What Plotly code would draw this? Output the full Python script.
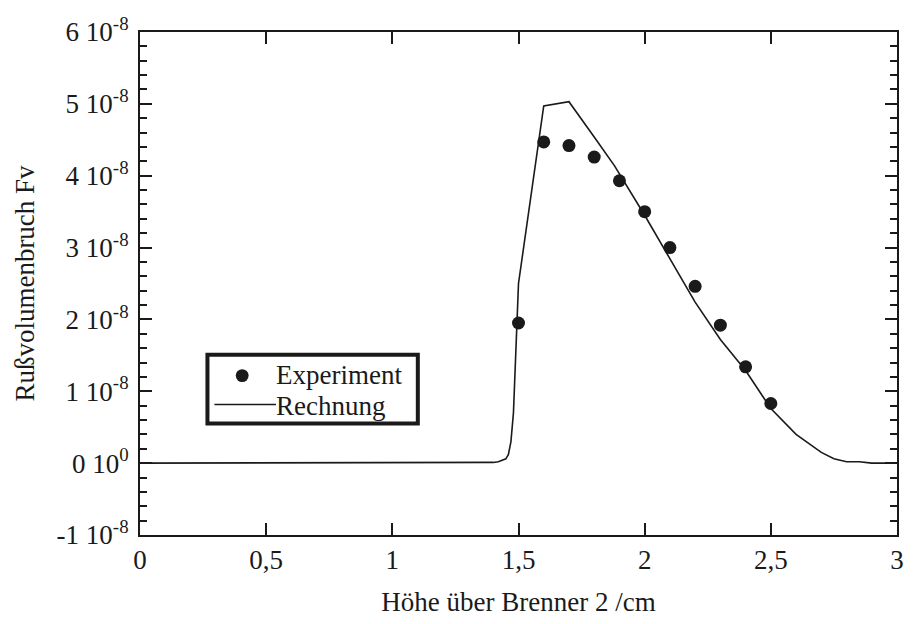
import plotly.graph_objects as go

# Experiment (dots)
x_exp = [1.5, 1.6, 1.7, 1.8, 1.9, 2.0, 2.1, 2.2, 2.3, 2.4, 2.5]
y_exp_e8 = [1.95, 4.47, 4.42, 4.26, 3.93, 3.50, 3.00, 2.46, 1.92, 1.34, 0.83]

# Rechnung (line)
x_calc = [0, 0.2, 0.4, 0.6, 0.8, 1.0, 1.2, 1.3, 1.35, 1.4, 1.42, 1.44, 1.45, 1.46,
          1.47, 1.48, 1.49, 1.50, 1.60, 1.70, 1.80, 1.88, 2.0, 2.1, 2.2, 2.3, 2.4,
          2.5, 2.6, 2.7, 2.75, 2.8, 2.85, 2.9, 3.0]
y_calc_e8 = [0, 0, 0, 0, 0, 0, 0, 0, 0.005, 0.01, 0.02, 0.04, 0.06, 0.12,
             0.3, 0.7, 1.5, 2.5, 4.97, 5.03, 4.54, 4.14, 3.45, 2.84, 2.24, 1.72, 1.29,
             0.76, 0.40, 0.15, 0.06, 0.02, 0.02, 0.0, 0.0]

x_ticks = [0, 0.5, 1, 1.5, 2, 2.5, 3]
x_ticktext = ["0", "0,5", "1", "1,5", "2", "2,5", "3"]
y_ticks_e8 = [-1, 0, 1, 2, 3, 4, 5, 6]
y_ticktext = ["-1 10<sup>-8</sup>", "0 10<sup>0</sup>", "1 10<sup>-8</sup>", "2 10<sup>-8</sup>",
              "3 10<sup>-8</sup>", "4 10<sup>-8</sup>", "5 10<sup>-8</sup>", "6 10<sup>-8</sup>"]

legend_labels = ["Experiment", "Rechnung"]

FONT = "Liberation Serif, Times New Roman, serif"
FS = 27
INK = "#1a1a1a"

fig = go.Figure()
fig.add_trace(go.Scatter(
    x=x_exp, y=[v * 1e-8 for v in y_exp_e8], mode="markers", name=legend_labels[0],
    marker=dict(symbol="circle", size=13, color=INK),
))
fig.add_trace(go.Scatter(
    x=x_calc, y=[v * 1e-8 for v in y_calc_e8], mode="lines", name=legend_labels[1],
    line=dict(color=INK, width=1.6),
))

# Custom legend box (paper coordinates)
fig.add_shape(type="rect", xref="paper", yref="paper",
              x0=0.0891, x1=0.3670, y0=0.2218, y1=0.3584,
              line=dict(color=INK, width=4), fillcolor="white", layer="above")
fig.add_shape(type="circle", xref="paper", yref="paper",
              x0=0.1265, x1=0.1435, y0=0.3040, y1=0.3297,
              line=dict(color=INK, width=0), fillcolor=INK, layer="above")
fig.add_shape(type="line", xref="paper", yref="paper",
              x0=0.0983, x1=0.1796, y0=0.2594, y1=0.2594,
              line=dict(color=INK, width=1.6), layer="above")
fig.add_annotation(text=legend_labels[0], xref="paper", yref="paper",
                   x=0.1783, y=0.3188, xanchor="left", yanchor="middle",
                   showarrow=False, borderpad=0,
                   font=dict(family=FONT, size=FS, color=INK))
fig.add_annotation(text=legend_labels[1], xref="paper", yref="paper",
                   x=0.1783, y=0.2574, xanchor="left", yanchor="middle",
                   showarrow=False, borderpad=0,
                   font=dict(family=FONT, size=FS, color=INK))

fig.update_layout(
    width=916, height=624,
    margin=dict(l=140, r=13, t=32, b=87),
    paper_bgcolor="white", plot_bgcolor="white",
    font=dict(family=FONT, size=FS, color=INK),
    showlegend=False,
)

fig.update_xaxes(
    range=[0, 3], tickvals=x_ticks, ticktext=x_ticktext,
    showline=True, linecolor=INK, linewidth=2, mirror="ticks",
    ticks="inside", ticklen=12, tickwidth=1.5, tickcolor=INK,
    showgrid=False, zeroline=False,
    title=dict(text="Höhe über Brenner 2 /cm", font=dict(family=FONT, size=FS), standoff=18),
    tickfont=dict(family=FONT, size=FS),
)
fig.update_yaxes(
    range=[-1e-8, 6e-8], tickvals=[v * 1e-8 for v in y_ticks_e8], ticktext=y_ticktext,
    showline=True, linecolor=INK, linewidth=2, mirror="ticks",
    ticks="inside", ticklen=12, tickwidth=1.5, tickcolor=INK,
    minor=dict(dtick=0.2e-8, tick0=0, ticks="inside", ticklen=7, tickwidth=1.5, tickcolor=INK),
    showgrid=False, zeroline=False,
    title=dict(text="Rußvolumenbruch Fv", font=dict(family=FONT, size=FS), standoff=14),
    tickfont=dict(family=FONT, size=FS),
    ticklabelstandoff=4,
)

fig.write_html("out.html")
